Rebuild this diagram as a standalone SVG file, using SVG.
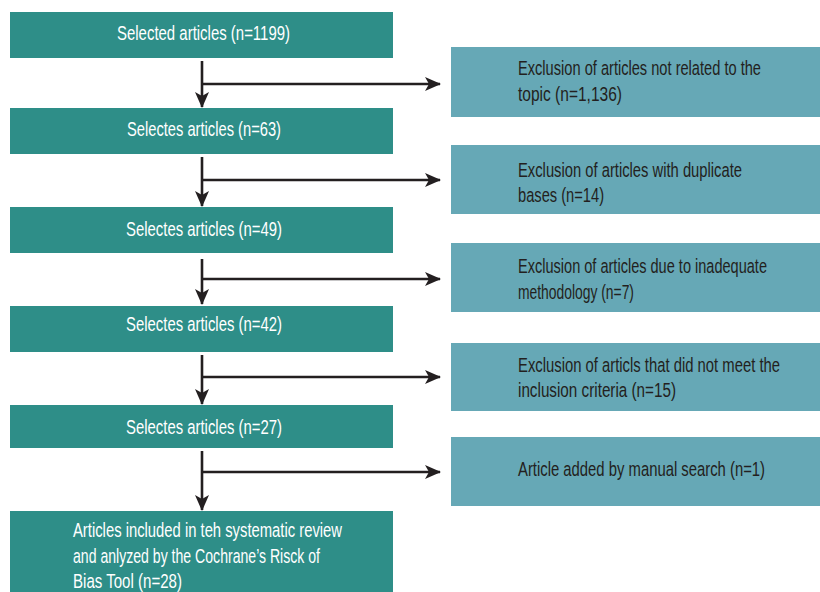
<svg xmlns="http://www.w3.org/2000/svg" width="820" height="592" viewBox="0 0 820 592">
<style>
.l{fill:#2E8E88}
.r{fill:#66A8B6}
.lt{font-family:"Liberation Sans",Arial,sans-serif;font-size:19.5px;fill:#ffffff}
.rt{font-family:"Liberation Sans",Arial,sans-serif;font-size:19.5px;fill:#231F20}
.c{stroke:#231F20;stroke-width:2.6;fill:none}
</style>
<defs>
<marker id="ah" viewBox="0 0 16 16" refX="15" refY="8" markerWidth="16" markerHeight="16" markerUnits="userSpaceOnUse" orient="auto">
<path d="M0,1 L16,8 L0,15 L4,8 Z" fill="#231F20"/>
</marker>
</defs>
<rect width="820" height="592" fill="#ffffff"/>
<g id="connectors">
<path class="c" d="M202,61 V107" marker-end="url(#ah)"/>
<path class="c" d="M202,84 H440" marker-end="url(#ah)"/>
<path class="c" d="M202,157 V206" marker-end="url(#ah)"/>
<path class="c" d="M202,180 H440" marker-end="url(#ah)"/>
<path class="c" d="M202,259 V304" marker-end="url(#ah)"/>
<path class="c" d="M202,279 H440" marker-end="url(#ah)"/>
<path class="c" d="M202,355 V404" marker-end="url(#ah)"/>
<path class="c" d="M202,377 H440" marker-end="url(#ah)"/>
<path class="c" d="M202,451 V510" marker-end="url(#ah)"/>
<path class="c" d="M202,472 H440" marker-end="url(#ah)"/>
</g>
<g id="s1"><rect class="l" x="10" y="12" width="383" height="46"/><text class="lt" transform="matrix(0.78,0,0,1,117,40)" textLength="221.8" lengthAdjust="spacingAndGlyphs">Selected articles (n=1199)</text></g>
<g id="s2"><rect class="l" x="10" y="108" width="383" height="46"/><text class="lt" transform="matrix(0.78,0,0,1,127,136)" textLength="197.4" lengthAdjust="spacingAndGlyphs">Selectes articles (n=63)</text></g>
<g id="s3"><rect class="l" x="10" y="207" width="383" height="46"/><text class="lt" transform="matrix(0.78,0,0,1,126,236)" textLength="200" lengthAdjust="spacingAndGlyphs">Selectes articles (n=49)</text></g>
<g id="s4"><rect class="l" x="10" y="306" width="383" height="46"/><text class="lt" transform="matrix(0.78,0,0,1,126,331)" textLength="200" lengthAdjust="spacingAndGlyphs">Selectes articles (n=42)</text></g>
<g id="s5"><rect class="l" x="10" y="405" width="383" height="43"/><text class="lt" transform="matrix(0.78,0,0,1,126,434)" textLength="200" lengthAdjust="spacingAndGlyphs">Selectes articles (n=27)</text></g>
<g id="s6"><rect class="l" x="10" y="511" width="383" height="81"/>
<text class="lt" transform="matrix(0.78,0,0,1,73,537)" textLength="344.9" lengthAdjust="spacingAndGlyphs">Articles included in teh systematic review</text>
<text class="lt" transform="matrix(0.78,0,0,1,73,563)" textLength="316.7" lengthAdjust="spacingAndGlyphs">and anlyzed by the Cochrane’s Risck of</text>
<text class="lt" transform="matrix(0.78,0,0,1,73,588)" textLength="139.7" lengthAdjust="spacingAndGlyphs">Bias Tool (n=28)</text></g>
<g id="e1"><rect class="r" x="451" y="47" width="369" height="70"/>
<text class="rt" transform="matrix(0.78,0,0,1,518,75)" textLength="311.5" lengthAdjust="spacingAndGlyphs">Exclusion of articles not related to the</text>
<text class="rt" transform="matrix(0.78,0,0,1,518,101)" textLength="133.3" lengthAdjust="spacingAndGlyphs">topic (n=1,136)</text></g>
<g id="e2"><rect class="r" x="451" y="145" width="369" height="69"/>
<text class="rt" transform="matrix(0.78,0,0,1,518,177)" textLength="287.2" lengthAdjust="spacingAndGlyphs">Exclusion of articles with duplicate</text>
<text class="rt" transform="matrix(0.78,0,0,1,518,202)" textLength="110.3" lengthAdjust="spacingAndGlyphs">bases (n=14)</text></g>
<g id="e3"><rect class="r" x="451" y="243" width="369" height="69"/>
<text class="rt" transform="matrix(0.78,0,0,1,518,273)" textLength="319.2" lengthAdjust="spacingAndGlyphs">Exclusion of articles due to inadequate</text>
<text class="rt" transform="matrix(0.78,0,0,1,518,299)" textLength="148.7" lengthAdjust="spacingAndGlyphs">methodology (n=7)</text></g>
<g id="e4"><rect class="r" x="451" y="343" width="369" height="68"/>
<text class="rt" transform="matrix(0.78,0,0,1,518,372)" textLength="335.9" lengthAdjust="spacingAndGlyphs">Exclusion of articls that did not meet the</text>
<text class="rt" transform="matrix(0.78,0,0,1,518,397)" textLength="202.6" lengthAdjust="spacingAndGlyphs">inclusion criteria (n=15)</text></g>
<g id="e5"><rect class="r" x="451" y="437" width="369" height="69"/>
<text class="rt" transform="matrix(0.78,0,0,1,518,476)" textLength="316.7" lengthAdjust="spacingAndGlyphs">Article added by manual search (n=1)</text></g>
</svg>
